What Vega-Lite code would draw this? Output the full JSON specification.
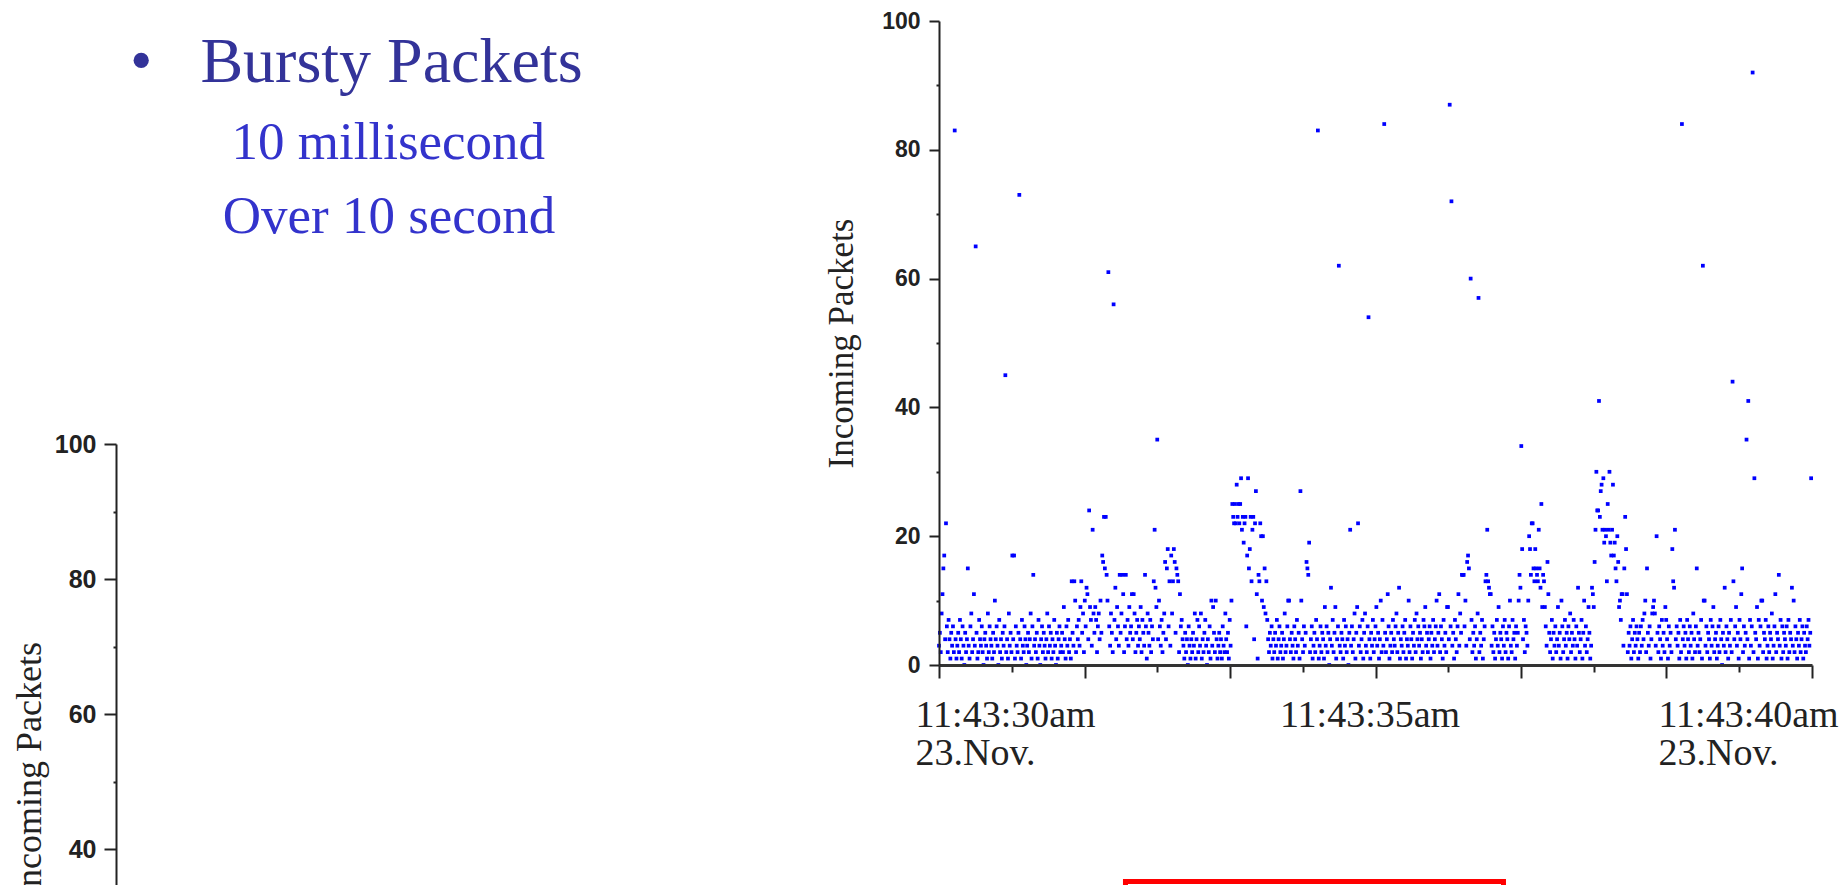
{
"$schema": "https://vega.github.io/schema/vega-lite/v6.json",
"width": 1840, "height": 885,
"autosize": {"type": "none"},
"padding": 0,
"background": "white",
"config": {"view": {"stroke": null}, "axis": {"grid": false}},
"title": {
 "text": "•\u2002 Bursty Packets",
 "subtitle": ["\u200b\u2003\u00a0\u00a0\u00a0\u200610 millisecond", "\u200b\u2003\u00a0\u00a0\u00a0Over 10 second"],
 "anchor": "start", "frame": "group", "orient": "top",
 "dx": 130, "offset": -244,
 "font": "Liberation Serif", "fontSize": 64, "fontWeight": "normal", "color": "#333399",
 "subtitleFont": "Liberation Serif", "subtitleFontSize": 53, "subtitleColor": "#3333cc",
 "subtitleLineHeight": 74, "subtitlePadding": 22
},
"layer": [
{
 "data": {"values": [
{"i":0,"v":3},{"i":1,"v":5},{"i":2,"v":2},{"i":3,"v":8},{"i":4,"v":11},{"i":5,"v":15},{"i":6,"v":17},{"i":7,"v":4},{"i":8,"v":22},{"i":9,"v":6},
{"i":10,"v":2},{"i":11,"v":7},{"i":12,"v":4},{"i":13,"v":1},{"i":14,"v":5},{"i":15,"v":3},{"i":16,"v":6},{"i":17,"v":2},{"i":18,"v":83},{"i":19,"v":4},
{"i":20,"v":1},{"i":21,"v":3},{"i":22,"v":5},{"i":23,"v":2},{"i":24,"v":7},{"i":25,"v":4},{"i":26,"v":1},{"i":27,"v":6},{"i":28,"v":3},{"i":29,"v":0},
{"i":30,"v":5},{"i":31,"v":2},{"i":32,"v":4},{"i":33,"v":15},{"i":34,"v":3},{"i":35,"v":1},{"i":36,"v":6},{"i":37,"v":8},{"i":38,"v":2},{"i":39,"v":4},
{"i":40,"v":11},{"i":41,"v":3},{"i":42,"v":65},{"i":43,"v":5},{"i":44,"v":1},{"i":45,"v":2},{"i":46,"v":7},{"i":47,"v":4},{"i":48,"v":3},{"i":49,"v":6},
{"i":50,"v":2},{"i":51,"v":0},{"i":52,"v":4},{"i":53,"v":5},{"i":54,"v":3},{"i":55,"v":1},{"i":56,"v":8},{"i":57,"v":2},{"i":58,"v":6},{"i":59,"v":4},
{"i":60,"v":3},{"i":61,"v":1},{"i":62,"v":5},{"i":63,"v":2},{"i":64,"v":10},{"i":65,"v":4},{"i":66,"v":6},{"i":67,"v":3},{"i":68,"v":0},{"i":69,"v":7},
{"i":70,"v":2},{"i":71,"v":4},{"i":72,"v":1},{"i":73,"v":5},{"i":74,"v":3},{"i":75,"v":6},{"i":76,"v":45},{"i":77,"v":2},{"i":78,"v":4},{"i":79,"v":1},
{"i":80,"v":8},{"i":81,"v":3},{"i":82,"v":5},{"i":83,"v":2},{"i":84,"v":17},{"i":85,"v":4},{"i":86,"v":17},{"i":87,"v":1},{"i":88,"v":6},{"i":89,"v":3},
{"i":90,"v":2},{"i":91,"v":5},{"i":92,"v":73},{"i":93,"v":4},{"i":94,"v":1},{"i":95,"v":7},{"i":96,"v":3},{"i":97,"v":2},{"i":98,"v":6},{"i":99,"v":4},
{"i":100,"v":0},{"i":101,"v":3},{"i":102,"v":5},{"i":103,"v":2},{"i":104,"v":4},{"i":105,"v":8},{"i":106,"v":1},{"i":107,"v":6},{"i":108,"v":14},{"i":109,"v":3},
{"i":110,"v":4},{"i":111,"v":2},{"i":112,"v":5},{"i":113,"v":1},{"i":114,"v":7},{"i":115,"v":3},{"i":116,"v":0},{"i":117,"v":4},{"i":118,"v":6},{"i":119,"v":2},
{"i":120,"v":5},{"i":121,"v":3},{"i":122,"v":1},{"i":123,"v":4},{"i":124,"v":8},{"i":125,"v":2},{"i":126,"v":6},{"i":127,"v":3},{"i":128,"v":5},{"i":129,"v":1},
{"i":130,"v":4},{"i":131,"v":2},{"i":132,"v":7},{"i":133,"v":3},{"i":134,"v":0},{"i":135,"v":5},{"i":136,"v":1},{"i":137,"v":4},{"i":138,"v":6},{"i":139,"v":2},
{"i":140,"v":3},{"i":141,"v":5},{"i":142,"v":2},{"i":143,"v":9},{"i":144,"v":4},{"i":145,"v":1},{"i":146,"v":6},{"i":147,"v":3},{"i":148,"v":7},{"i":149,"v":2},
{"i":150,"v":4},{"i":151,"v":1},{"i":152,"v":13},{"i":153,"v":5},{"i":154,"v":3},{"i":155,"v":13},{"i":156,"v":10},{"i":157,"v":2},{"i":158,"v":6},{"i":159,"v":4},
{"i":160,"v":7},{"i":161,"v":3},{"i":162,"v":9},{"i":163,"v":13},{"i":164,"v":5},{"i":165,"v":8},{"i":166,"v":2},{"i":167,"v":10},{"i":168,"v":6},{"i":169,"v":12},
{"i":170,"v":11},{"i":171,"v":4},{"i":172,"v":24},{"i":173,"v":9},{"i":174,"v":7},{"i":175,"v":3},{"i":176,"v":21},{"i":177,"v":8},{"i":178,"v":5},{"i":179,"v":9},
{"i":180,"v":7},{"i":181,"v":2},{"i":182,"v":6},{"i":183,"v":8},{"i":184,"v":4},{"i":185,"v":10},{"i":186,"v":5},{"i":187,"v":17},{"i":188,"v":16},{"i":189,"v":23},
{"i":190,"v":15},{"i":191,"v":23},{"i":192,"v":14},{"i":193,"v":10},{"i":194,"v":61},{"i":195,"v":6},{"i":196,"v":3},{"i":197,"v":8},{"i":198,"v":5},{"i":199,"v":2},
{"i":200,"v":56},{"i":201,"v":7},{"i":202,"v":12},{"i":203,"v":4},{"i":204,"v":9},{"i":205,"v":6},{"i":206,"v":3},{"i":207,"v":14},{"i":208,"v":5},{"i":209,"v":8},
{"i":210,"v":14},{"i":211,"v":11},{"i":212,"v":2},{"i":213,"v":6},{"i":214,"v":14},{"i":215,"v":4},{"i":216,"v":7},{"i":217,"v":3},{"i":218,"v":9},{"i":219,"v":5},
{"i":220,"v":6},{"i":221,"v":11},{"i":222,"v":4},{"i":223,"v":11},{"i":224,"v":8},{"i":225,"v":2},{"i":226,"v":5},{"i":227,"v":7},{"i":228,"v":3},{"i":229,"v":6},
{"i":230,"v":4},{"i":231,"v":9},{"i":232,"v":2},{"i":233,"v":7},{"i":234,"v":5},{"i":235,"v":3},{"i":236,"v":14},{"i":237,"v":6},{"i":238,"v":1},{"i":239,"v":8},
{"i":240,"v":5},{"i":241,"v":3},{"i":242,"v":7},{"i":243,"v":2},{"i":244,"v":6},{"i":245,"v":4},{"i":246,"v":13},{"i":247,"v":21},{"i":248,"v":12},{"i":249,"v":9},
{"i":250,"v":35},{"i":251,"v":4},{"i":252,"v":10},{"i":253,"v":6},{"i":254,"v":3},{"i":255,"v":7},{"i":256,"v":2},{"i":257,"v":5},{"i":258,"v":8},{"i":259,"v":16},
{"i":260,"v":4},{"i":261,"v":15},{"i":262,"v":18},{"i":263,"v":6},{"i":264,"v":13},{"i":265,"v":3},{"i":266,"v":17},{"i":267,"v":8},{"i":268,"v":13},{"i":269,"v":18},
{"i":270,"v":16},{"i":271,"v":5},{"i":272,"v":15},{"i":273,"v":14},{"i":274,"v":13},{"i":275,"v":2},{"i":276,"v":11},{"i":277,"v":6},{"i":278,"v":7},{"i":279,"v":4},
{"i":280,"v":3},{"i":281,"v":1},{"i":282,"v":5},{"i":283,"v":2},{"i":284,"v":4},{"i":285,"v":0},{"i":286,"v":6},{"i":287,"v":3},{"i":288,"v":1},{"i":289,"v":4},
{"i":290,"v":2},{"i":291,"v":5},{"i":292,"v":3},{"i":293,"v":8},{"i":294,"v":1},{"i":295,"v":4},{"i":296,"v":7},{"i":297,"v":2},{"i":298,"v":6},{"i":299,"v":3},
{"i":300,"v":8},{"i":301,"v":1},{"i":302,"v":4},{"i":303,"v":2},{"i":304,"v":5},{"i":305,"v":7},{"i":306,"v":3},{"i":307,"v":0},{"i":308,"v":4},{"i":309,"v":2},
{"i":310,"v":6},{"i":311,"v":1},{"i":312,"v":10},{"i":313,"v":3},{"i":314,"v":9},{"i":315,"v":5},{"i":316,"v":2},{"i":317,"v":10},{"i":318,"v":4},{"i":319,"v":1},
{"i":320,"v":3},{"i":321,"v":5},{"i":322,"v":2},{"i":323,"v":4},{"i":324,"v":1},{"i":325,"v":6},{"i":326,"v":3},{"i":327,"v":2},{"i":328,"v":8},{"i":329,"v":4},
{"i":330,"v":2},{"i":331,"v":5},{"i":332,"v":1},{"i":333,"v":7},{"i":334,"v":3},{"i":335,"v":10},{"i":336,"v":25},{"i":337,"v":23},{"i":338,"v":22},{"i":339,"v":25},
{"i":340,"v":22},{"i":341,"v":28},{"i":342,"v":23},{"i":343,"v":25},{"i":344,"v":22},{"i":345,"v":25},{"i":346,"v":29},{"i":347,"v":21},{"i":348,"v":23},{"i":349,"v":19},
{"i":350,"v":22},{"i":351,"v":23},{"i":352,"v":6},{"i":353,"v":17},{"i":354,"v":29},{"i":355,"v":15},{"i":356,"v":18},{"i":357,"v":23},{"i":358,"v":13},{"i":359,"v":21},
{"i":360,"v":23},{"i":361,"v":4},{"i":362,"v":22},{"i":363,"v":27},{"i":364,"v":11},{"i":365,"v":1},{"i":366,"v":14},{"i":367,"v":13},{"i":368,"v":22},{"i":369,"v":20},
{"i":370,"v":10},{"i":371,"v":20},{"i":372,"v":9},{"i":373,"v":15},{"i":374,"v":8},{"i":375,"v":13},{"i":376,"v":7},{"i":377,"v":4},{"i":378,"v":2},{"i":379,"v":5},
{"i":380,"v":3},{"i":381,"v":6},{"i":382,"v":1},{"i":383,"v":4},{"i":384,"v":2},{"i":385,"v":5},{"i":386,"v":3},{"i":387,"v":7},{"i":388,"v":1},{"i":389,"v":4},
{"i":390,"v":6},{"i":391,"v":2},{"i":392,"v":3},{"i":393,"v":5},{"i":394,"v":1},{"i":395,"v":4},{"i":396,"v":8},{"i":397,"v":2},{"i":398,"v":3},{"i":399,"v":6},
{"i":400,"v":10},{"i":401,"v":10},{"i":402,"v":4},{"i":403,"v":2},{"i":404,"v":5},{"i":405,"v":3},{"i":406,"v":1},{"i":407,"v":6},{"i":408,"v":4},{"i":409,"v":2},
{"i":410,"v":7},{"i":411,"v":3},{"i":412,"v":5},{"i":413,"v":1},{"i":414,"v":27},{"i":415,"v":10},{"i":416,"v":4},{"i":417,"v":2},{"i":418,"v":6},{"i":419,"v":3},
{"i":420,"v":5},{"i":421,"v":16},{"i":422,"v":15},{"i":423,"v":14},{"i":424,"v":19},{"i":425,"v":2},{"i":426,"v":4},{"i":427,"v":6},{"i":428,"v":1},{"i":429,"v":3},
{"i":430,"v":5},{"i":431,"v":2},{"i":432,"v":7},{"i":433,"v":4},{"i":434,"v":83},{"i":435,"v":1},{"i":436,"v":3},{"i":437,"v":6},{"i":438,"v":2},{"i":439,"v":5},
{"i":440,"v":4},{"i":441,"v":1},{"i":442,"v":9},{"i":443,"v":3},{"i":444,"v":6},{"i":445,"v":2},{"i":446,"v":5},{"i":447,"v":0},{"i":448,"v":4},{"i":449,"v":12},
{"i":450,"v":3},{"i":451,"v":7},{"i":452,"v":2},{"i":453,"v":5},{"i":454,"v":9},{"i":455,"v":1},{"i":456,"v":4},{"i":457,"v":6},{"i":458,"v":62},{"i":459,"v":3},
{"i":460,"v":2},{"i":461,"v":5},{"i":462,"v":4},{"i":463,"v":1},{"i":464,"v":7},{"i":465,"v":3},{"i":466,"v":6},{"i":467,"v":2},{"i":468,"v":4},{"i":469,"v":0},
{"i":470,"v":5},{"i":471,"v":21},{"i":472,"v":3},{"i":473,"v":6},{"i":474,"v":2},{"i":475,"v":4},{"i":476,"v":8},{"i":477,"v":1},{"i":478,"v":5},{"i":479,"v":9},
{"i":480,"v":22},{"i":481,"v":3},{"i":482,"v":6},{"i":483,"v":2},{"i":484,"v":4},{"i":485,"v":7},{"i":486,"v":1},{"i":487,"v":5},{"i":488,"v":8},{"i":489,"v":3},
{"i":490,"v":2},{"i":491,"v":6},{"i":492,"v":54},{"i":493,"v":4},{"i":494,"v":1},{"i":495,"v":5},{"i":496,"v":3},{"i":497,"v":7},{"i":498,"v":2},{"i":499,"v":4},
{"i":500,"v":6},{"i":501,"v":9},{"i":502,"v":3},{"i":503,"v":5},{"i":504,"v":1},{"i":505,"v":4},{"i":506,"v":10},{"i":507,"v":2},{"i":508,"v":7},{"i":509,"v":3},
{"i":510,"v":84},{"i":511,"v":5},{"i":512,"v":2},{"i":513,"v":4},{"i":514,"v":11},{"i":515,"v":6},{"i":516,"v":1},{"i":517,"v":3},{"i":518,"v":5},{"i":519,"v":2},
{"i":520,"v":7},{"i":521,"v":4},{"i":522,"v":3},{"i":523,"v":6},{"i":524,"v":8},{"i":525,"v":2},{"i":526,"v":5},{"i":527,"v":12},{"i":528,"v":1},{"i":529,"v":4},
{"i":530,"v":3},{"i":531,"v":6},{"i":532,"v":2},{"i":533,"v":5},{"i":534,"v":7},{"i":535,"v":1},{"i":536,"v":4},{"i":537,"v":3},{"i":538,"v":10},{"i":539,"v":2},
{"i":540,"v":6},{"i":541,"v":4},{"i":542,"v":1},{"i":543,"v":5},{"i":544,"v":3},{"i":545,"v":7},{"i":546,"v":2},{"i":547,"v":8},{"i":548,"v":4},{"i":549,"v":6},
{"i":550,"v":3},{"i":551,"v":5},{"i":552,"v":1},{"i":553,"v":4},{"i":554,"v":2},{"i":555,"v":7},{"i":556,"v":6},{"i":557,"v":9},{"i":558,"v":3},{"i":559,"v":5},
{"i":560,"v":2},{"i":561,"v":4},{"i":562,"v":6},{"i":563,"v":1},{"i":564,"v":5},{"i":565,"v":3},{"i":566,"v":7},{"i":567,"v":2},{"i":568,"v":4},{"i":569,"v":6},
{"i":570,"v":10},{"i":571,"v":3},{"i":572,"v":5},{"i":573,"v":11},{"i":574,"v":2},{"i":575,"v":6},{"i":576,"v":4},{"i":577,"v":1},{"i":578,"v":7},{"i":579,"v":3},
{"i":580,"v":5},{"i":581,"v":2},{"i":582,"v":9},{"i":583,"v":9},{"i":584,"v":4},{"i":585,"v":87},{"i":586,"v":6},{"i":587,"v":72},{"i":588,"v":3},{"i":589,"v":5},
{"i":590,"v":1},{"i":591,"v":7},{"i":592,"v":4},{"i":593,"v":2},{"i":594,"v":6},{"i":595,"v":11},{"i":596,"v":3},{"i":597,"v":8},{"i":598,"v":5},{"i":599,"v":14},
{"i":600,"v":14},{"i":601,"v":14},{"i":602,"v":6},{"i":603,"v":10},{"i":604,"v":3},{"i":605,"v":16},{"i":606,"v":17},{"i":607,"v":15},{"i":608,"v":4},{"i":609,"v":60},
{"i":610,"v":7},{"i":611,"v":2},{"i":612,"v":5},{"i":613,"v":3},{"i":614,"v":6},{"i":615,"v":1},{"i":616,"v":4},{"i":617,"v":8},{"i":618,"v":57},{"i":619,"v":2},
{"i":620,"v":5},{"i":621,"v":3},{"i":622,"v":7},{"i":623,"v":1},{"i":624,"v":4},{"i":625,"v":6},{"i":626,"v":13},{"i":627,"v":14},{"i":628,"v":21},{"i":629,"v":13},
{"i":630,"v":12},{"i":631,"v":11},{"i":632,"v":11},{"i":633,"v":3},{"i":634,"v":6},{"i":635,"v":2},{"i":636,"v":5},{"i":637,"v":1},{"i":638,"v":4},{"i":639,"v":7},
{"i":640,"v":3},{"i":641,"v":9},{"i":642,"v":2},{"i":643,"v":5},{"i":644,"v":4},{"i":645,"v":1},{"i":646,"v":6},{"i":647,"v":3},{"i":648,"v":7},{"i":649,"v":2},
{"i":650,"v":5},{"i":651,"v":4},{"i":652,"v":1},{"i":653,"v":6},{"i":654,"v":10},{"i":655,"v":3},{"i":656,"v":2},{"i":657,"v":7},{"i":658,"v":4},{"i":659,"v":5},
{"i":660,"v":1},{"i":661,"v":6},{"i":662,"v":3},{"i":663,"v":5},{"i":664,"v":10},{"i":665,"v":14},{"i":666,"v":12},{"i":667,"v":34},{"i":668,"v":18},{"i":669,"v":4},
{"i":670,"v":7},{"i":671,"v":2},{"i":672,"v":6},{"i":673,"v":5},{"i":674,"v":3},{"i":675,"v":10},{"i":676,"v":20},{"i":677,"v":18},{"i":678,"v":14},{"i":679,"v":22},
{"i":680,"v":22},{"i":681,"v":15},{"i":682,"v":13},{"i":683,"v":18},{"i":684,"v":15},{"i":685,"v":14},{"i":686,"v":13},{"i":687,"v":21},{"i":688,"v":15},{"i":689,"v":12},
{"i":690,"v":25},{"i":691,"v":9},{"i":692,"v":14},{"i":693,"v":13},{"i":694,"v":9},{"i":695,"v":6},{"i":696,"v":3},{"i":697,"v":16},{"i":698,"v":11},{"i":699,"v":5},
{"i":700,"v":2},{"i":701,"v":4},{"i":702,"v":7},{"i":703,"v":1},{"i":704,"v":5},{"i":705,"v":3},{"i":706,"v":6},{"i":707,"v":2},{"i":708,"v":4},{"i":709,"v":9},
{"i":710,"v":3},{"i":711,"v":5},{"i":712,"v":1},{"i":713,"v":10},{"i":714,"v":6},{"i":715,"v":2},{"i":716,"v":4},{"i":717,"v":7},{"i":718,"v":3},{"i":719,"v":5},
{"i":720,"v":1},{"i":721,"v":6},{"i":722,"v":4},{"i":723,"v":8},{"i":724,"v":2},{"i":725,"v":5},{"i":726,"v":3},{"i":727,"v":7},{"i":728,"v":4},{"i":729,"v":1},
{"i":730,"v":6},{"i":731,"v":3},{"i":732,"v":12},{"i":733,"v":5},{"i":734,"v":2},{"i":735,"v":4},{"i":736,"v":7},{"i":737,"v":1},{"i":738,"v":5},{"i":739,"v":10},
{"i":740,"v":3},{"i":741,"v":6},{"i":742,"v":2},{"i":743,"v":4},{"i":744,"v":9},{"i":745,"v":5},{"i":746,"v":1},{"i":747,"v":3},{"i":748,"v":12},{"i":749,"v":11},
{"i":750,"v":9},{"i":751,"v":16},{"i":752,"v":21},{"i":753,"v":30},{"i":754,"v":24},{"i":755,"v":24},{"i":756,"v":41},{"i":757,"v":23},{"i":758,"v":27},{"i":759,"v":28},
{"i":760,"v":21},{"i":761,"v":29},{"i":762,"v":19},{"i":763,"v":21},{"i":764,"v":20},{"i":765,"v":13},{"i":766,"v":25},{"i":767,"v":21},{"i":768,"v":30},{"i":769,"v":19},
{"i":770,"v":17},{"i":771,"v":21},{"i":772,"v":28},{"i":773,"v":17},{"i":774,"v":19},{"i":775,"v":15},{"i":776,"v":13},{"i":777,"v":20},{"i":778,"v":16},{"i":779,"v":9},
{"i":780,"v":10},{"i":781,"v":7},{"i":782,"v":11},{"i":783,"v":11},{"i":784,"v":3},{"i":785,"v":15},{"i":786,"v":23},{"i":787,"v":18},{"i":788,"v":11},{"i":789,"v":2},
{"i":790,"v":5},{"i":791,"v":3},{"i":792,"v":6},{"i":793,"v":1},{"i":794,"v":4},{"i":795,"v":7},{"i":796,"v":2},{"i":797,"v":5},{"i":798,"v":3},{"i":799,"v":6},
{"i":800,"v":4},{"i":801,"v":1},{"i":802,"v":5},{"i":803,"v":2},{"i":804,"v":6},{"i":805,"v":3},{"i":806,"v":7},{"i":807,"v":4},{"i":808,"v":8},{"i":809,"v":10},
{"i":810,"v":2},{"i":811,"v":15},{"i":812,"v":5},{"i":813,"v":3},{"i":814,"v":6},{"i":815,"v":1},{"i":816,"v":4},{"i":817,"v":8},{"i":818,"v":9},{"i":819,"v":10},
{"i":820,"v":8},{"i":821,"v":3},{"i":822,"v":20},{"i":823,"v":5},{"i":824,"v":2},{"i":825,"v":6},{"i":826,"v":4},{"i":827,"v":1},{"i":828,"v":7},{"i":829,"v":3},
{"i":830,"v":5},{"i":831,"v":2},{"i":832,"v":9},{"i":833,"v":7},{"i":834,"v":4},{"i":835,"v":1},{"i":836,"v":6},{"i":837,"v":3},{"i":838,"v":5},{"i":839,"v":2},
{"i":840,"v":18},{"i":841,"v":13},{"i":842,"v":12},{"i":843,"v":21},{"i":844,"v":4},{"i":845,"v":6},{"i":846,"v":3},{"i":847,"v":5},{"i":848,"v":1},{"i":849,"v":7},
{"i":850,"v":2},{"i":851,"v":84},{"i":852,"v":4},{"i":853,"v":6},{"i":854,"v":3},{"i":855,"v":5},{"i":856,"v":1},{"i":857,"v":7},{"i":858,"v":4},{"i":859,"v":2},
{"i":860,"v":6},{"i":861,"v":3},{"i":862,"v":5},{"i":863,"v":1},{"i":864,"v":8},{"i":865,"v":4},{"i":866,"v":2},{"i":867,"v":6},{"i":868,"v":15},{"i":869,"v":3},
{"i":870,"v":5},{"i":871,"v":2},{"i":872,"v":4},{"i":873,"v":7},{"i":874,"v":1},{"i":875,"v":62},{"i":876,"v":10},{"i":877,"v":10},{"i":878,"v":3},{"i":879,"v":6},
{"i":880,"v":2},{"i":881,"v":5},{"i":882,"v":4},{"i":883,"v":1},{"i":884,"v":7},{"i":885,"v":3},{"i":886,"v":6},{"i":887,"v":9},{"i":888,"v":2},{"i":889,"v":4},
{"i":890,"v":5},{"i":891,"v":1},{"i":892,"v":3},{"i":893,"v":6},{"i":894,"v":2},{"i":895,"v":7},{"i":896,"v":4},{"i":897,"v":0},{"i":898,"v":5},{"i":899,"v":3},
{"i":900,"v":12},{"i":901,"v":2},{"i":902,"v":6},{"i":903,"v":4},{"i":904,"v":1},{"i":905,"v":5},{"i":906,"v":3},{"i":907,"v":7},{"i":908,"v":2},{"i":909,"v":44},
{"i":910,"v":13},{"i":911,"v":4},{"i":912,"v":6},{"i":913,"v":9},{"i":914,"v":3},{"i":915,"v":5},{"i":916,"v":1},{"i":917,"v":7},{"i":918,"v":4},{"i":919,"v":11},
{"i":920,"v":15},{"i":921,"v":2},{"i":922,"v":6},{"i":923,"v":3},{"i":924,"v":5},{"i":925,"v":35},{"i":926,"v":4},{"i":927,"v":41},{"i":928,"v":1},{"i":929,"v":7},
{"i":930,"v":3},{"i":931,"v":6},{"i":932,"v":92},{"i":933,"v":2},{"i":934,"v":29},{"i":935,"v":5},{"i":936,"v":4},{"i":937,"v":9},{"i":938,"v":1},{"i":939,"v":7},
{"i":940,"v":3},{"i":941,"v":6},{"i":942,"v":10},{"i":943,"v":10},{"i":944,"v":2},{"i":945,"v":5},{"i":946,"v":4},{"i":947,"v":7},{"i":948,"v":1},{"i":949,"v":3},
{"i":950,"v":6},{"i":951,"v":2},{"i":952,"v":5},{"i":953,"v":4},{"i":954,"v":8},{"i":955,"v":1},{"i":956,"v":3},{"i":957,"v":6},{"i":958,"v":11},{"i":959,"v":2},
{"i":960,"v":5},{"i":961,"v":4},{"i":962,"v":14},{"i":963,"v":3},{"i":964,"v":7},{"i":965,"v":1},{"i":966,"v":6},{"i":967,"v":2},{"i":968,"v":5},{"i":969,"v":4},
{"i":970,"v":3},{"i":971,"v":6},{"i":972,"v":1},{"i":973,"v":7},{"i":974,"v":2},{"i":975,"v":5},{"i":976,"v":4},{"i":977,"v":12},{"i":978,"v":3},{"i":979,"v":10},
{"i":980,"v":2},{"i":981,"v":6},{"i":982,"v":4},{"i":983,"v":1},{"i":984,"v":5},{"i":985,"v":3},{"i":986,"v":7},{"i":987,"v":2},{"i":988,"v":4},{"i":989,"v":6},
{"i":990,"v":1},{"i":991,"v":5},{"i":992,"v":3},{"i":993,"v":2},{"i":994,"v":6},{"i":995,"v":4},{"i":996,"v":7},{"i":997,"v":3},{"i":998,"v":5},{"i":999,"v":29}
 ]},
 "mark": {"type": "square", "size": 14, "color": "#0000ff", "opacity": 1},
 "encoding": {
  "x": {"field": "i", "type": "quantitative",
   "scale": {"domain": [0, 1000], "range": [939, 1812], "nice": false, "zero": false},
   "axis": {"orient": "bottom", "offset": -220, "values": [0, 166.667, 333.333, 500, 666.667, 833.333, 1000],
    "tickSize": 13, "tickWidth": 2, "tickColor": "#222", "domainColor": "#333", "domainWidth": 3,
    "labelExpr": "datum.value == 0 ? ['11:43:30am', '23.Nov.'] : datum.value == 500 ? '11:43:35am' : datum.value == 1000 ? ['11:43:40am', '23.Nov.'] : ''",
    "labelFont": "Liberation Serif", "labelFontSize": 38, "labelColor": "#222", "labelLineHeight": 38,
    "labelPadding": 18, "labelAlign": "left", "labelFlush": false, "labelOverlap": false, "labelBound": false, "labelLimit": 0,
    "labelOffset": {"condition": [{"test": "datum.value == 0", "value": -24}, {"test": "datum.value == 1000", "value": -154}], "value": -96},
    "title": null, "zindex": 1}},
  "y": {"field": "v", "type": "quantitative",
   "scale": {"domain": [0, 100], "range": [665, 21], "nice": false},
   "axis": {"orient": "left", "offset": -939, "values": [0, 20, 40, 60, 80, 100],
    "tickSize": 10, "tickWidth": 2, "tickColor": "#222", "domainColor": "#222", "domainWidth": 2,
    "labelFont": "Liberation Sans", "labelFontWeight": "bold", "labelFontSize": 23, "labelColor": "#222", "labelPadding": 9,
    "title": "Incoming Packets", "titleFont": "Liberation Serif", "titleFontSize": 35, "titleFontWeight": "normal",
    "titleColor": "#222", "titlePadding": 22, "zindex": 1}}
 }
},
{
 "data": {"values": []},
 "mark": {"type": "point", "opacity": 0},
 "encoding": {
  "x": {"field": "i", "type": "quantitative",
   "scale": {"domain": [0, 1000], "range": [939, 1812], "nice": false, "zero": false},
   "axis": {"orient": "bottom", "offset": -220, "values": [83.333, 250, 416.667, 583.333, 750, 916.667],
    "tickSize": 7, "tickWidth": 2, "tickColor": "#222", "domain": false, "labels": false, "title": null}},
  "y": {"field": "v", "type": "quantitative",
   "scale": {"domain": [0, 100], "range": [665, 21], "nice": false},
   "axis": {"orient": "left", "offset": -939, "values": [10, 30, 50, 70, 90],
    "tickSize": 3, "tickWidth": 2, "tickColor": "#222", "domain": false, "labels": false, "title": null}}
 }
},
{
 "data": {"values": []},
 "mark": {"type": "point", "opacity": 0},
 "encoding": {
  "y": {"field": "v", "type": "quantitative",
   "scale": {"domain": [0, 100], "range": [1119, 444], "nice": false},
   "axis": {"orient": "left", "offset": -116, "values": [0, 20, 40, 60, 80, 100],
    "tickSize": 12, "tickWidth": 2, "tickColor": "#222", "domainColor": "#222", "domainWidth": 2,
    "labelFont": "Liberation Sans", "labelFontWeight": "bold", "labelFontSize": 25, "labelColor": "#222", "labelPadding": 8,
    "title": "Incoming Packets", "titleFont": "Liberation Serif", "titleFontSize": 36, "titleFontWeight": "normal",
    "titleColor": "#222", "titlePadding": 6, "titleY": 770}}
 }
},
{
 "data": {"values": []},
 "mark": {"type": "point", "opacity": 0},
 "encoding": {
  "y": {"field": "v", "type": "quantitative",
   "scale": {"domain": [0, 100], "range": [1119, 444], "nice": false},
   "axis": {"orient": "left", "offset": -116, "values": [10, 30, 50, 70, 90],
    "tickSize": 3, "tickWidth": 2, "tickColor": "#222", "domain": false, "labels": false, "title": null}}
 }
},
{
 "data": {"values": [{"x1": 213.6, "x2": 646.6, "y1": -33.6, "y2": -60}]},
 "mark": {"type": "rect", "fill": "white", "fillOpacity": 0, "stroke": "#ff0000", "strokeWidth": 5},
 "encoding": {
  "x": {"field": "x1", "type": "quantitative", "scale": {"domain": [0, 1000], "range": [939, 1812], "nice": false, "zero": false}, "axis": null},
  "x2": {"field": "x2"},
  "y": {"field": "y1", "type": "quantitative", "scale": {"domain": [0, 100], "range": [665, 21], "nice": false}, "axis": null},
  "y2": {"field": "y2"}
 }
}
],
"resolve": {"scale": {"x": "independent", "y": "independent"}, "axis": {"x": "independent", "y": "independent"}}
}
